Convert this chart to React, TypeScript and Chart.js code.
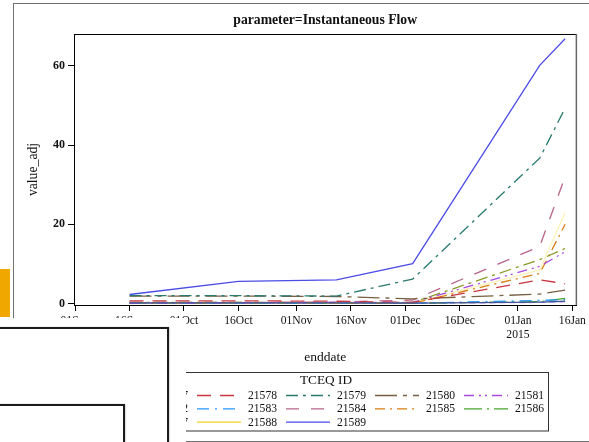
import React, { useEffect, useRef } from "react";
import { Chart, registerables } from "chart.js";

Chart.register(...registerables);

// ---------- data ----------
const TITLE = "parameter=Instantaneous Flow";
const X_TITLE = "enddate";
const Y_TITLE = "value_adj";
const LEGEND_TITLE = "TCEQ ID";

const DATES = ["2014-09-16", "2014-10-16", "2014-11-12", "2014-12-03", "2015-01-07", "2015-01-14"];

const SERIES_IDS = [
  "21577", "21578", "21579", "21580", "21581",
  "21582", "21583", "21584", "21585", "21586",
  "21587", "21588", "21589",
];

const V_21577 = [0.2, 0.2, 0.2, 0.1, 0.4, 0.6];
const V_21578 = [0.7, 0.7, 0.6, 0.3, 6.0, 5.0];
const V_21579 = [2.0, 2.0, 1.9, 6.2, 36.7, 49.3];
const V_21580 = [1.9, 1.9, 1.8, 1.2, 2.4, 3.4];
const V_21581 = [0.1, 0.2, 0.3, 0.3, 9.4, 13.1];
const V_21582 = [0.3, 0.3, 0.2, 0.3, 11.1, 13.9];
const V_21583 = [0.1, 0.1, 0.1, 0.1, 0.8, 1.0];
const V_21584 = [0.3, 0.3, 0.4, 0.9, 14.4, 32.0];
const V_21585 = [0.2, 0.2, 0.1, 0.1, 7.6, 20.0];
const V_21586 = [0.1, 0.1, 0.1, 0.1, 0.5, 1.3];
const V_21587 = [0.1, 0.1, 0.1, 0.1, 0.3, 0.5];
const V_21588 = [0.0, 0.0, 0.1, 0.1, 8.5, 23.0];
const V_21589 = [2.3, 5.6, 6.0, 10.1, 60.1, 66.8];

const SERIES_VALUES = [
  V_21577, V_21578, V_21579, V_21580, V_21581,
  V_21582, V_21583, V_21584, V_21585, V_21586,
  V_21587, V_21588, V_21589,
];

const SERIES_COLORS = [
  "#445694", "#C8363F", "#2A7A70", "#7A5E42", "#A64AE0",
  "#8A9A2A", "#2597FA", "#B9648A", "#D97E10", "#47A82A",
  "#B38EF3", "#F2D21C", "#4B4BE6",
];

const SERIES_DASHES: number[][] = [
  [], [14, 9], [12, 5, 3, 5], [22, 6, 4, 6], [10, 5, 2, 4, 2, 5],
  [12, 5, 3, 5], [12, 6, 2, 6], [13, 12], [10, 5, 2, 5], [18, 5, 2, 5],
  [6, 4], [], [],
];

const X_TICK_DATES = [
  "2014-09-01", "2014-09-16", "2014-10-01", "2014-10-16", "2014-11-01",
  "2014-11-16", "2014-12-01", "2014-12-16", "2015-01-01", "2015-01-16",
];
const X_TICK_LABELS = ["01Sep", "16Sep", "01Oct", "16Oct", "01Nov", "16Nov", "01Dec", "16Dec", "01Jan", "16Jan"];
const X_TICK_SUBLABELS = ["", "", "", "", "", "", "", "", "2015", ""];
const Y_TICKS = [0, 20, 40, 60];

// ---------- helpers ----------
const ORIGIN = Date.UTC(2014, 8, 1);
const dayOf = (s: string) => (Date.parse(s + "T00:00:00Z") - ORIGIN) / 86400000;

const SERIF = '"Liberation Serif", "Times New Roman", serif';

// the yellow series is barely visible in the plot of the reference
const plotColor = (c: string) => (c === "#F2D21C" ? "rgba(242,210,28,0.3)" : c);

const framePlugin = {
  id: "frame",
  afterDraw(chart: any) {
    const { ctx, chartArea } = chart;
    ctx.save();
    ctx.setLineDash([]);
    ctx.strokeStyle = "#000";
    ctx.lineWidth = 1;
    ctx.beginPath();
    ctx.moveTo(chartArea.left, Math.round(chartArea.top) + 0.5);
    ctx.lineTo(chartArea.right, Math.round(chartArea.top) + 0.5);
    ctx.stroke();
    ctx.strokeStyle = "#666";
    ctx.lineWidth = 1.5;
    ctx.beginPath();
    ctx.moveTo(chartArea.right, chartArea.top);
    ctx.lineTo(chartArea.right, chartArea.bottom);
    ctx.stroke();
    ctx.restore();
  },
};

const boxLegendPlugin = {
  id: "boxLegend",
  afterDraw(chart: any) {
    const ctx = chart.ctx;
    const left = 104, right = 548, top = 372, bottom = 430.5;
    ctx.save();
    ctx.setLineDash([]);
    ctx.strokeStyle = "#333";
    ctx.lineWidth = 1;
    ctx.strokeRect(left + 0.5, top + 0.5, right - left, bottom - top);
    ctx.fillStyle = "#111";
    ctx.textAlign = "center";
    ctx.textBaseline = "middle";
    ctx.font = `13.3px ${SERIF}`;
    ctx.fillText(LEGEND_TITLE, (left + right) / 2, 381);
    chart.data.datasets.forEach((ds: any, i: number) => {
      const col = i % 5;
      const row = Math.floor(i / 5);
      const x = 108 + col * 89;
      const y = 395.5 + row * 13.3;
      ctx.strokeStyle = SERIES_COLORS[i];
      ctx.lineWidth = 1.3;
      ctx.setLineDash(ds.borderDash || []);
      ctx.beginPath();
      ctx.moveTo(x, y);
      ctx.lineTo(x + 44, y);
      ctx.stroke();
      ctx.setLineDash([]);
      ctx.fillStyle = "#111";
      ctx.textAlign = "left";
      ctx.font = `11.6px ${SERIF}`;
      ctx.fillText(ds.label, x + 51, y + 0.5);
    });
    ctx.restore();
  },
};

export default function App() {
  const canvasRef = useRef<HTMLCanvasElement | null>(null);

  useEffect(() => {
    if (!canvasRef.current) return;
    const datasets = SERIES_IDS.map((id, i) => ({
      label: id,
      data: DATES.map((d, j) => ({ x: dayOf(d), y: SERIES_VALUES[i][j] })),
      borderColor: plotColor(SERIES_COLORS[i]),
      backgroundColor: SERIES_COLORS[i],
      borderDash: SERIES_DASHES[i],
      borderWidth: 1.3,
      pointRadius: 0,
      tension: 0,
      fill: false,
    }));
    const xTicks = X_TICK_DATES.map(dayOf);

    const chart = new Chart(canvasRef.current, {
      type: "line",
      data: { datasets },
      plugins: [framePlugin, boxLegendPlugin],
      options: {
        animation: false,
        responsive: false,
        maintainAspectRatio: false,
        layout: { padding: { left: 0, top: 0, right: 12, bottom: 76 } },
        plugins: {
          legend: { display: false },
          tooltip: { enabled: false },
          title: {
            display: true,
            text: TITLE,
            fullSize: false,
            color: "#111",
            font: { family: SERIF, size: 13.7, weight: "bold" },
            padding: { top: 12.5, bottom: 5.06 },
          },
        },
        scales: {
          x: {
            type: "linear",
            min: -0.3,
            max: 138.1,
            afterFit: (s: any) => { s.height = 61; },
            afterBuildTicks: (s: any) => { s.ticks = xTicks.map((v) => ({ value: v })); },
            grid: { drawOnChartArea: false, tickLength: 6, color: "#000" },
            border: { display: true, color: "#000", width: 1 },
            ticks: {
              autoSkip: false,
              maxRotation: 0,
              padding: 3,
              color: "#111",
              font: { family: SERIF, size: 11.6 },
              callback: (_v: any, i: number) =>
                X_TICK_SUBLABELS[i] ? [X_TICK_LABELS[i], X_TICK_SUBLABELS[i]] : X_TICK_LABELS[i],
            },
            title: {
              display: true,
              text: X_TITLE,
              color: "#111",
              font: { family: SERIF, size: 13.5 },
              padding: { top: 0, bottom: 0 },
            },
          },
          y: {
            type: "linear",
            min: -0.35,
            max: 68,
            afterFit: (s: any) => { s.width = 74; },
            afterBuildTicks: (s: any) => { s.ticks = Y_TICKS.map((v) => ({ value: v })); },
            grid: { drawOnChartArea: false, tickLength: 6, color: "#000" },
            border: { display: true, color: "#000", width: 1 },
            ticks: {
              padding: 3,
              color: "#111",
              font: { family: SERIF, size: 12, weight: "bold" },
            },
            title: {
              display: true,
              text: Y_TITLE,
              color: "#111",
              font: { family: SERIF, size: 13.7 },
              padding: { top: 25.5, bottom: 0 },
            },
          },
        },
      } as any,
    });
    return () => chart.destroy();
  }, []);

  const abs: React.CSSProperties = { position: "absolute", pointerEvents: "none", boxSizing: "border-box" };

  return (
    <div style={{ position: "fixed", left: 0, top: 0, width: 589, height: 442, overflow: "hidden", background: "#fff" }}>
      {/* outer document frame */}
      <div style={{ ...abs, left: 13, top: 3, width: 620, height: 438.5, borderLeft: "1.5px solid #707070", borderTop: "1.5px solid #707070", borderBottom: "1.5px solid #707070" }} />
      <canvas ref={canvasRef} width={589} height={442} style={{ position: "absolute", left: 0, top: 0, width: 589, height: 442 }} />
      {/* orange tab */}
      <div style={{ ...abs, left: 0, top: 269, width: 10, height: 48, background: "#F0A800" }} />
      {/* overlapping white panel with framed boxes */}
      <div style={{ ...abs, left: 0, top: 318, width: 186, height: 124, background: "#fff" }} />
      <div style={{ ...abs, left: -10, top: 327, width: 178.5, height: 140, border: "2px solid #1c1c1c", boxShadow: "0 0 1.5px 0.5px #999" }} />
      <div style={{ ...abs, left: -10, top: 403.5, width: 134.5, height: 80, border: "2px solid #1c1c1c", boxShadow: "0 0 1.5px 0.5px #999" }} />
    </div>
  );
}
